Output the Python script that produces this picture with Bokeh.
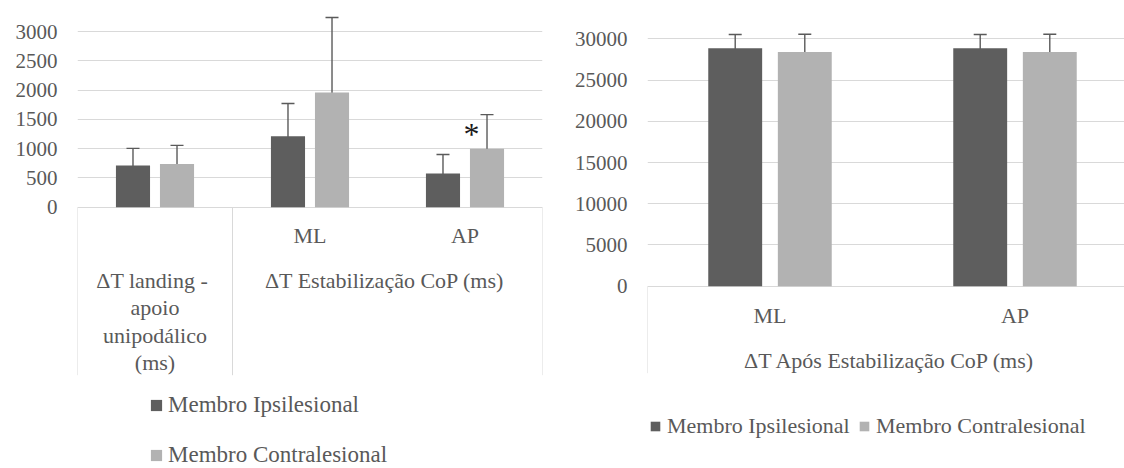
from bokeh.plotting import figure
from bokeh.models import (ColumnDataSource, Range1d, FixedTicker, Whisker, TeeHead,
                          Legend, LegendItem)
from bokeh.layouts import row
from bokeh.core.properties import value
from bokeh.embed import file_html
from bokeh.resources import INLINE

# ---- data: stabilisation times, mean and SD per limb ----
left_groups = ["landing", "ML", "AP"]
left_ipsi_mean = [710, 1210, 575]
left_ipsi_sd = [295, 560, 325]
left_contra_mean = [737, 1958, 1000]
left_contra_sd = [318, 1280, 580]
left_ticks = [0, 500, 1000, 1500, 2000, 2500, 3000]
left_landing_lines = ["ΔT landing  -", "apoio", "unipodálico", "(ms)"]
left_group_title = "ΔT Estabilização  CoP (ms)"
significant = ["AP"]  # contralesional vs ipsilesional, marked with *

right_groups = ["ML", "AP"]
right_ipsi_mean = [28850, 28850]
right_ipsi_sd = [1680, 1680]
right_contra_mean = [28400, 28400]
right_contra_sd = [2160, 2160]
right_ticks = [0, 5000, 10000, 15000, 20000, 25000, 30000]
right_group_title = "ΔT Após Estabilização  CoP (ms)"

series_names = ["Membro Ipsilesional", "Membro Contralesional"]

# ---- style ----
DARK = "#5e5e5e"
LIGHT = "#b2b2b2"
GRID = "#d9d9d9"
TEXT = "#595959"
ERR = "#5a5a5a"
FONT = "Liberation Serif"
OFFSET = 0.142      # bar centre offset from category centre
BAR_W = 0.22


def base_figure(width, left_border, right_border, x_end, y_start, y_end, ticks):
    p = figure(width=width, height=468, output_backend="svg", toolbar_location=None,
               x_range=Range1d(0, x_end), y_range=Range1d(y_start, y_end),
               x_axis_location=None, min_border_left=left_border,
               min_border_right=right_border, min_border_top=10, min_border_bottom=0)
    p.outline_line_color = None
    p.background_fill_color = "white"
    p.border_fill_color = "white"
    p.xgrid.visible = False
    p.yaxis.ticker = FixedTicker(ticks=ticks)
    p.ygrid.grid_line_color = GRID
    p.ygrid.grid_line_width = 1
    ax = p.yaxis[0]
    ax.axis_line_color = None
    ax.major_tick_line_color = None
    ax.minor_tick_line_color = None
    ax.major_tick_out = 0
    ax.major_tick_in = 0
    ax.major_label_standoff = 20
    ax.major_label_text_font = FONT
    ax.major_label_text_font_size = "21px"
    ax.major_label_text_color = TEXT
    return p


def draw_bars(p, n, ipsi, ipsi_sd, contra, contra_sd):
    centres = [i + 0.5 for i in range(n)]
    renderers = []
    for sign, means, sds, color in ((-1, ipsi, ipsi_sd, DARK), (1, contra, contra_sd, LIGHT)):
        xs = [c + sign * OFFSET for c in centres]
        src = ColumnDataSource(dict(
            x=xs, top=means,
            upper=[m + s for m, s in zip(means, sds)],
            lower=[m - s for m, s in zip(means, sds)]))
        r = p.vbar(x="x", top="top", bottom=0, width=BAR_W, source=src,
                   fill_color=color, line_color=None)
        p.add_layout(Whisker(source=src, base="x", upper="upper", lower="lower",
                             dimension="height", line_color=ERR, line_width=1.4,
                             upper_head=TeeHead(size=13, line_color=ERR, line_width=1.4),
                             lower_head=TeeHead(size=13, line_color=ERR, line_width=1.4)))
        renderers.append(r)
    return renderers


def text(p, x, y, s, size):
    p.text(x=[x], y=[y], text=[s], text_font=value(FONT), text_font_size=size,
           text_color=TEXT, text_align="center", text_baseline="middle")


# ================= left chart =================
k1 = 175.7 / 3000           # px per unit
L_ZERO = 196.7              # px from frame top to the zero line
lp = base_figure(560, 77, 18, 3, -(458 - L_ZERO) / k1, L_ZERO / k1, left_ticks)
lr = draw_bars(lp, len(left_groups), left_ipsi_mean, left_ipsi_sd,
               left_contra_mean, left_contra_sd)


def ly(px_below):
    return -px_below / k1


# category box lines below the axis
lp.segment(x0=[0, 1, 3], y0=[0, 0, 0], x1=[0, 1, 3], y1=[ly(168)] * 3,
           line_color=GRID, line_width=1)
for i, g in enumerate(left_groups):
    if g != "landing":
        text(lp, i + 0.5, ly(28.5), g, "22px")
for j, line in enumerate(left_landing_lines):
    text(lp, 0.5, ly(73.5 + 27.2 * j), line, "22px")
text(lp, 2.0, ly(73.5), left_group_title, "22px")

# significance marker above the contralesional bar
for g in significant:
    i = left_groups.index(g)
    lp.text(x=[i + 0.5 + OFFSET - 0.1], y=[left_contra_mean[i] + 245], text=["*"],
            text_font=value(FONT), text_font_size="32px", text_color="#1a1a1a",
            text_align="center", text_baseline="alphabetic")

lleg = Legend(items=[LegendItem(label=series_names[0], renderers=[lr[0]]),
                     LegendItem(label=series_names[1], renderers=[lr[1]])],
              location=(72, 0), orientation="vertical",
              glyph_width=14, glyph_height=14, label_standoff=5, label_height=22,
              spacing=24, padding=0, margin=0, border_line_color=None,
              background_fill_alpha=0, label_text_font=FONT,
              label_text_font_size="23px", label_text_color=TEXT)
lp.add_layout(lleg)

# ================= right chart =================
k2 = 247.4 / 30000
R_ZERO = 275.7
rp = base_figure(564, 87, 0, 477 / 245, -(458 - R_ZERO) / k2, R_ZERO / k2, right_ticks)
rr = draw_bars(rp, len(right_groups), right_ipsi_mean, right_ipsi_sd,
               right_contra_mean, right_contra_sd)


def ry(px_below):
    return -px_below / k2


rp.segment(x0=[0], y0=[0], x1=[0], y1=[ry(87)], line_color=GRID, line_width=1)
for i, g in enumerate(right_groups):
    text(rp, i + 0.5, ry(29.5), g, "22px")
text(rp, 1.0, ry(74.5), right_group_title, "22px")

rleg = Legend(items=[LegendItem(label=series_names[0], renderers=[rr[0]]),
                     LegendItem(label=series_names[1], renderers=[rr[1]])],
              location=(2, 29), orientation="horizontal",
              glyph_width=12, glyph_height=12, label_standoff=6, label_height=22,
              label_width=188, spacing=3, padding=0, margin=0,
              border_line_color=None, background_fill_alpha=0,
              label_text_font=FONT, label_text_font_size="22px",
              label_text_color=TEXT)
rp.add_layout(rleg)

layout = row(lp, rp, spacing=0)
open("out.html", "w").write(file_html(layout, INLINE))
